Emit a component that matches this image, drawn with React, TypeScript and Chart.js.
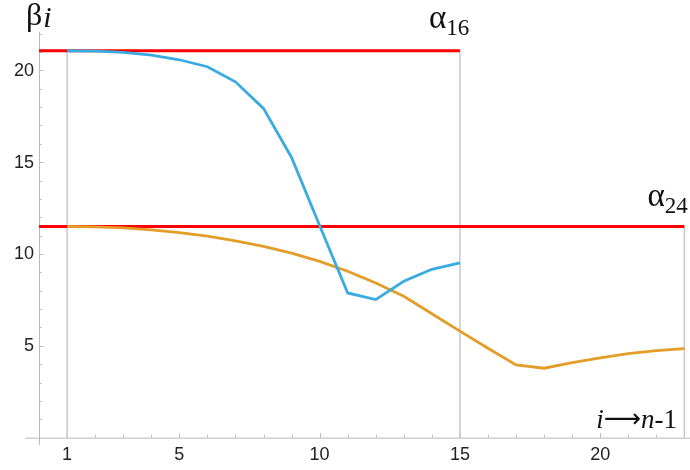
import React, { useEffect, useRef } from "react";
import { Chart, registerables } from "chart.js";

Chart.register(...registerables);

// ---- data ----
const iBlue = [1, 2, 3, 4, 5, 6, 7, 8, 9, 10, 11, 12, 13, 14, 15];
const betaBlue = [21.07, 21.05, 20.98, 20.83, 20.58, 20.2, 19.38, 17.93, 15.26, 11.55, 7.88, 7.52, 8.52, 9.17, 9.52];

const iOrange = [1, 2, 3, 4, 5, 6, 7, 8, 9, 10, 11, 12, 13, 14, 15, 16, 17, 18, 19, 20, 21, 22, 23];
const betaOrange = [11.5, 11.48, 11.42, 11.32, 11.17, 10.97, 10.72, 10.42, 10.05, 9.6, 9.06, 8.42, 7.7, 6.75, 5.8, 4.87, 3.96, 3.78, 4.08, 4.35, 4.58, 4.74, 4.85];

const alpha16 = 21.07;
const alpha24 = 11.5;
const alpha16End = 15;
const alpha24End = 23;

const xTickLabels = [1, 5, 10, 15, 20];
const yTickLabels = [5, 10, 15, 20];
const xMinorTicks = [2, 3, 4, 6, 7, 8, 9, 11, 12, 13, 14, 16, 17, 18, 19, 21, 22, 23];
const yMinorTicks = [1, 2, 3, 4, 6, 7, 8, 9, 11, 12, 13, 14, 16, 17, 18, 19, 21, 22];

const toPts = (xs: number[], ys: number[]) => xs.map((x, k) => ({ x, y: ys[k] }));

const axesPlugin = {
  id: "mmaAxes",
  beforeDatasetsDraw(chart: any) {
    const { ctx, scales, chartArea } = chart;
    const xs = scales.x;
    const ys = scales.y;
    const x0 = xs.getPixelForValue(0);
    const y0 = ys.getPixelForValue(0);
    ctx.save();
    ctx.strokeStyle = "#b8b8b8";
    ctx.lineWidth = 1;
    ctx.beginPath();
    ctx.moveTo(chartArea.left, y0 + 0.5);
    ctx.lineTo(chart.width, y0 + 0.5);
    ctx.moveTo(x0 + 0.5, chartArea.bottom);
    ctx.lineTo(x0 + 0.5, ys.getPixelForValue(22.1));
    ctx.stroke();
    ctx.beginPath();
    xTickLabels.forEach((v) => {
      const p = Math.round(xs.getPixelForValue(v)) + 0.5;
      ctx.moveTo(p, y0);
      ctx.lineTo(p, y0 - 4.5);
    });
    xMinorTicks.forEach((v) => {
      const p = Math.round(xs.getPixelForValue(v)) + 0.5;
      ctx.moveTo(p, y0);
      ctx.lineTo(p, y0 - 2.7);
    });
    yTickLabels.forEach((v) => {
      const p = Math.round(ys.getPixelForValue(v)) + 0.5;
      ctx.moveTo(x0, p);
      ctx.lineTo(x0 + 4.5, p);
    });
    yMinorTicks.forEach((v) => {
      const p = Math.round(ys.getPixelForValue(v)) + 0.5;
      ctx.moveTo(x0, p);
      ctx.lineTo(x0 + 2.7, p);
    });
    ctx.stroke();

    ctx.fillStyle = "#222";
    ctx.font = "18px 'Liberation Sans', Arial, sans-serif";
    ctx.textAlign = "center";
    ctx.textBaseline = "middle";
    xTickLabels.forEach((v) => {
      ctx.fillText(String(v), xs.getPixelForValue(v), y0 + 17);
    });
    ctx.textAlign = "right";
    yTickLabels.forEach((v) => {
      ctx.fillText(String(v), x0 - 5, ys.getPixelForValue(v) + 0.5);
    });
    ctx.restore();
  },
  afterDraw(chart: any) {
    const { ctx, scales } = chart;
    const xs = scales.x;
    const ys = scales.y;
    ctx.save();
    ctx.fillStyle = "#111";
    ctx.textBaseline = "alphabetic";
    ctx.textAlign = "left";
    const serif = "'Liberation Serif', 'DejaVu Serif', serif";

    // beta_i label
    ctx.font = `32px ${serif}`;
    ctx.fillText("β", 26, 25);
    const bw = ctx.measureText("β").width;
    ctx.font = `italic 30px ${serif}`;
    ctx.fillText("i", 26 + bw + 1, 27);

    const drawAlpha = (sub: string, x: number, y: number) => {
      ctx.font = `33px ${serif}`;
      ctx.fillText("α", x, y);
      const aw = ctx.measureText("α").width;
      ctx.font = `23px ${serif}`;
      ctx.fillText(sub, x + aw, y + 7);
    };
    drawAlpha("16", xs.getPixelForValue(alpha16End) - 31, ys.getPixelForValue(alpha16) - 23);
    drawAlpha("24", xs.getPixelForValue(alpha24End) - 37, ys.getPixelForValue(alpha24) - 20);

    // i -> n-1 label, right aligned
    const fs = 27;
    const parts: [string, string][] = [
      ["i", `italic ${fs}px ${serif}`],
      ["⟶", `26px 'DejaVu Sans', sans-serif`],
      ["n", `italic ${fs}px ${serif}`],
      ["-1", `${fs}px ${serif}`],
    ];
    let total = 0;
    const widths = parts.map(([t, f]) => {
      ctx.font = f;
      const w = ctx.measureText(t).width;
      total += w;
      return w;
    });
    let cx = 677 - total;
    const by = ys.getPixelForValue(0) - 10;
    parts.forEach(([t, f], k) => {
      ctx.font = f;
      ctx.fillText(t, cx, k === 1 ? by - 1 : by);
      cx += widths[k];
    });
    ctx.restore();
  },
};

export default function App() {
  const ref = useRef<HTMLCanvasElement | null>(null);
  useEffect(() => {
    if (!ref.current) return;
    const blue = "#39abe0";
    const orange = "#e39d28";
    const gray = "#c8c8c8";
    const chart = new Chart(ref.current, {
      type: "line",
      data: {
        datasets: [
          { data: toPts(iBlue, betaBlue), borderColor: blue, borderWidth: 2.8, pointRadius: 0, tension: 0, order: 1 },
          { data: toPts(iOrange, betaOrange), borderColor: orange, borderWidth: 2.8, pointRadius: 0, tension: 0, order: 2 },
          { data: [{ x: 0, y: alpha16 }, { x: alpha16End, y: alpha16 }], borderColor: "#ff0000", borderWidth: 2.8, pointRadius: 0, order: 3 },
          { data: [{ x: 0, y: alpha24 }, { x: alpha24End, y: alpha24 }], borderColor: "#ff0000", borderWidth: 2.8, pointRadius: 0, order: 3 },
          { data: [{ x: 1, y: 0 }, { x: 1, y: alpha16 }], borderColor: gray, borderWidth: 1.5, pointRadius: 0, order: 4 },
          { data: [{ x: alpha16End, y: 0 }, { x: alpha16End, y: alpha16 }], borderColor: gray, borderWidth: 1.5, pointRadius: 0, order: 4 },
          { data: [{ x: alpha24End, y: 0 }, { x: alpha24End, y: alpha24 }], borderColor: gray, borderWidth: 1.5, pointRadius: 0, order: 4 },
        ],
      },
      options: {
        animation: false,
        responsive: false,
        layout: { padding: { left: 25, right: 0, top: 30, bottom: 25 } },
        plugins: { legend: { display: false }, tooltip: { enabled: false } },
        scales: {
          x: { type: "linear", min: -0.5, max: 23.2, display: false },
          y: { type: "linear", min: -0.4, max: 22.2, display: false },
        },
      },
      plugins: [axesPlugin],
    });
    return () => chart.destroy();
  }, []);
  return (
    <div style={{ position: "fixed", left: 0, top: 0, width: 690, height: 470, background: "#fff" }}>
      <canvas ref={ref} width={690} height={470} style={{ width: 690, height: 470 }} />
    </div>
  );
}
